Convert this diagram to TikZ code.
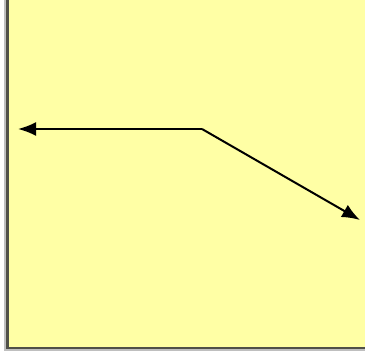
\documentclass[tikz,border=0pt]{standalone}
\usetikzlibrary{arrows.meta}
\definecolor{notepaper}{RGB}{255,255,165}
\definecolor{frameline}{RGB}{80,80,72}
\begin{document}
\begin{tikzpicture}[x=0.5pt,y=-0.5pt]
	\useasboundingbox (0,0) rectangle (365,354);
	% Draw the paper
	\tikzset{pointer/.style={black,line width=1pt,-{Latex[length=9pt,width=7pt]}}}
	\fill[white] (0,0) rectangle (365,354);
	\fill[black!25] (4,0) rectangle (365,351);
	\fill[notepaper] (8,0) rectangle (365,348);
	\draw[frameline,line width=1.2pt] (7.5,0) -- (7.5,348) -- (365,348);
	
	% the points of the arrows
	\coordinate (bend) at (202,129);
	\coordinate (west) at (18,129);
	\coordinate (east) at (360,220);
	
	% draw the arrows
	\draw[pointer] (bend) -- (west);
	\draw[pointer] (bend) -- (east);
\end{tikzpicture}
\end{document}
